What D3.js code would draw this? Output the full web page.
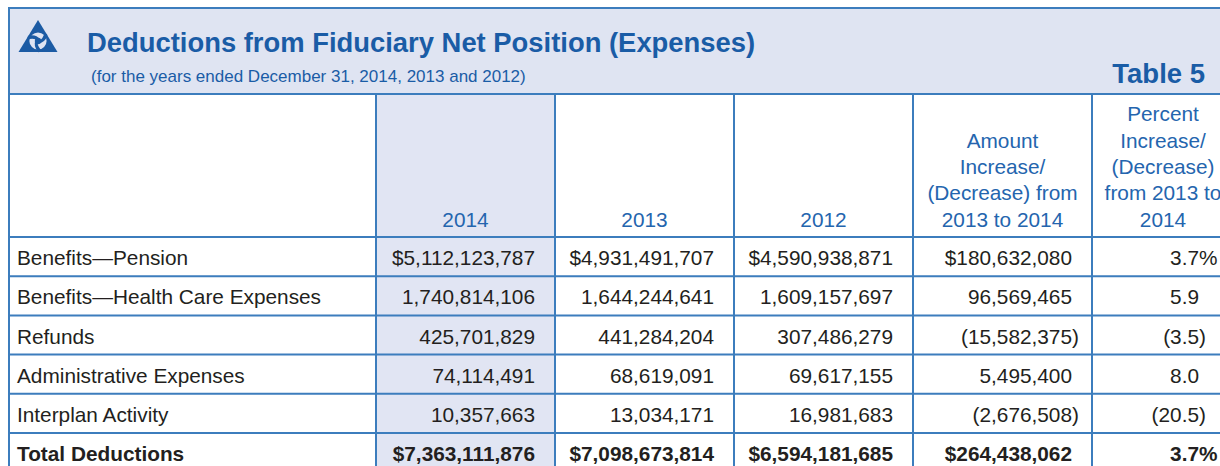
<!DOCTYPE html>
<html>
<head>
<script src="https://d3js.org/d3.v7.min.js"></script>
<style>
  body { margin: 0; background: #fff; }
  text { font-family: "Liberation Sans", Arial, sans-serif; }
</style>
</head>
<body>
<svg id="tbl" width="1220" height="466"></svg>
<script>
// table content
var rowLabels = ["Benefits\u2014Pension", "Benefits\u2014Health Care Expenses", "Refunds",
                 "Administrative Expenses", "Interplan Activity", "Total Deductions"];
var col2014 = ["$5,112,123,787", "1,740,814,106", "425,701,829", "74,114,491", "10,357,663", "$7,363,111,876"];
var col2013 = ["$4,931,491,707", "1,644,244,641", "441,284,204", "68,619,091", "13,034,171", "$7,098,673,814"];
var col2012 = ["$4,590,938,871", "1,609,157,697", "307,486,279", "69,617,155", "16,981,683", "$6,594,181,685"];
var colAmount = ["$180,632,080", "96,569,465", "(15,582,375)", "5,495,400", "(2,676,508)", "$264,438,062"];
var colPercent = ["3.7%", "5.9", "(3.5)", "8.0", "(20.5)", "3.7%"];
var headers = [["2014"], ["2013"], ["2012"],
               ["Amount", "Increase/", "(Decrease) from", "2013 to 2014"],
               ["Percent", "Increase/", "(Decrease)", "from 2013 to", "2014"]];
var title = "Deductions from Fiduciary Net Position (Expenses)";
var subtitle = "(for the years ended December 31, 2014, 2013 and 2012)";
var tableNo = "Table 5";

var blue = "#3c7dbd", titleBlue = "#1a5ca6", headBlue = "#2465ae", ink = "#231f20", band = "#dfe4f2";
var fs = 20.8;

var svg = d3.select("#tbl");
var columns = [col2014, col2013, col2012, colAmount, colPercent];

// column edges: label column, then the five value columns
var colX = d3.scaleOrdinal().domain(d3.range(6)).range([8, 376, 555, 734, 913, 1092]);
var colW = [368, 179, 179, 179, 179, 142];
var colPad = [20, 20, 20, 20, 20, 35];
var headTop = 94, headBottom = 237;
var y = d3.scaleBand().domain(rowLabels).range([headBottom, headBottom + 6 * 39.2]);

// header band
svg.append("rect").attr("x", 8).attr("y", 8).attr("width", 1230).attr("height", headTop - 8)
  .attr("fill", band);
// shaded 2014 column
svg.append("rect").attr("x", colX(1)).attr("y", headTop).attr("width", colW[1]).attr("height", 466 - headTop)
  .attr("fill", "#e1e5f3");

// logo
var logo = svg.append("g").attr("transform", "translate(38,41)");
logo.append("path").attr("d", "M0,-21 L19.5,11 L-19.5,11 Z").attr("fill", "#1c5ba4");
logo.append("circle").attr("r", 8.6).attr("fill", band);
for (var k = 0; k < 3; k++) {
  logo.append("path")
    .attr("transform", "rotate(" + (k * 120) + ")")
    .attr("d", "M0,0 Q5.5,-1.5 6.5,-9 L9.5,-6 Q7,2 0,2.6 Z")
    .attr("fill", "#1c5ba4");
}
logo.append("circle").attr("r", 3.2).attr("fill", "#1c5ba4");

// titles
svg.append("text").attr("x", 87).attr("y", 52).attr("fill", titleBlue)
  .attr("font-size", 27.4).attr("font-weight", "bold").text(title);
svg.append("text").attr("x", 91).attr("y", 82).attr("fill", titleBlue)
  .attr("font-size", 17).text(subtitle);
svg.append("text").attr("x", 1205).attr("y", 83).attr("fill", titleBlue).attr("text-anchor", "end")
  .attr("font-size", 27.5).attr("font-weight", "bold").text(tableNo);

// column headers
headers.forEach(function(lines, c) {
  var cx = colX(c + 1) + colW[c + 1] / 2;
  var t = svg.append("text").attr("text-anchor", "middle").attr("fill", headBlue).attr("font-size", fs);
  lines.forEach(function(s, i) {
    t.append("tspan").attr("x", cx).attr("y", 226.5 - (lines.length - 1 - i) * 26.3).text(s);
  });
});

// body rows
rowLabels.forEach(function(lab, r) {
  var bold = r === rowLabels.length - 1;
  var by = y(lab) + y.bandwidth() / 2 + 8.5;
  svg.append("text").attr("x", 17).attr("y", by).attr("fill", ink).attr("font-size", fs)
    .attr("font-weight", bold ? "bold" : null).text(lab);
  columns.forEach(function(col, c) {
    var v = col[r];
    var ax = colX(c + 1) + colW[c + 1] - colPad[c + 1];
    var tail = /[)%]$/.test(v) ? v.slice(-1) : "";
    var main = tail ? v.slice(0, -1) : v;
    svg.append("text").attr("x", ax).attr("y", by).attr("text-anchor", "end").attr("fill", ink)
      .attr("font-size", fs).attr("font-weight", bold ? "bold" : null).text(main);
    if (tail) {
      svg.append("text").attr("x", ax).attr("y", by).attr("fill", ink)
        .attr("font-size", fs).attr("font-weight", bold ? "bold" : null).text(tail);
    }
  });
});

// grid lines
var hl = [8, headTop].concat(rowLabels.map(function(d) { return y(d); }));
svg.selectAll("line.h").data(hl).enter().append("line")
  .attr("x1", 8).attr("x2", 1240).attr("y1", function(d) { return d; }).attr("y2", function(d) { return d; })
  .attr("stroke", blue).attr("stroke-width", 2);
svg.append("line").attr("x1", 9).attr("x2", 9).attr("y1", 8).attr("y2", 466)
  .attr("stroke", blue).attr("stroke-width", 2);
svg.selectAll("line.v").data(d3.range(1, 6)).enter().append("line")
  .attr("x1", function(d) { return colX(d); }).attr("x2", function(d) { return colX(d); })
  .attr("y1", headTop).attr("y2", 466)
  .attr("stroke", blue).attr("stroke-width", 2);
</script>
</body>
</html>
